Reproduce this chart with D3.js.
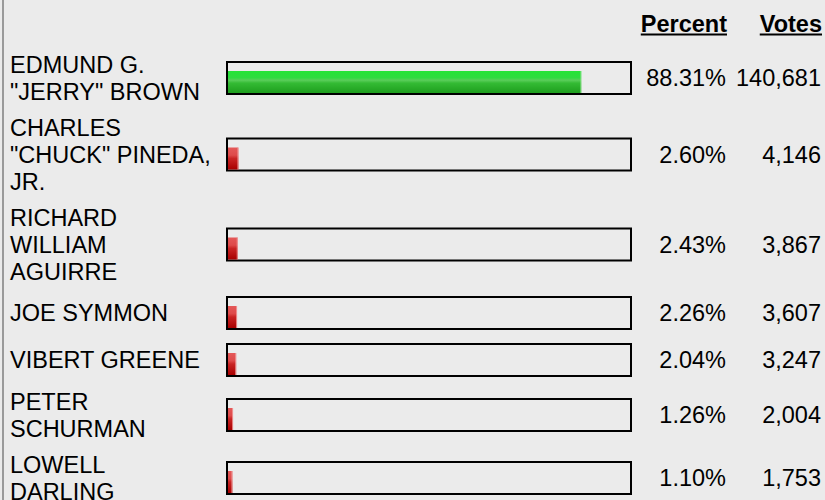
<!DOCTYPE html>
<html><head><meta charset="utf-8">
<script src="https://cdn.jsdelivr.net/npm/d3@7/dist/d3.min.js"></script>
<style>body{margin:0;background:#ebebeb;overflow:hidden}svg{display:block}</style>
</head><body><script>
// ---- data ----
const candidates = ['EDMUND G. "JERRY" BROWN', 'CHARLES "CHUCK" PINEDA, JR.', 'RICHARD WILLIAM AGUIRRE', 'JOE SYMMON', 'VIBERT GREENE', 'PETER SCHURMAN', 'LOWELL DARLING'];
const percents = [88.31, 2.60, 2.43, 2.26, 2.04, 1.26, 1.10];
const votes = [140681, 4146, 3867, 3607, 3247, 2004, 1753];
const headers = ["Percent", "Votes"];

// ---- layout ----
const W = 825, H = 500;
const FONT = '"Liberation Sans", Arial, Helvetica, sans-serif';
const FS = 23.5, LH = 27, PAD = 9, MINROW = 47;
const nameX = 10, nameMax = 204;
const pctRight = 726, voteRight = 821;

const svg = d3.select("body").append("svg").attr("width", W).attr("height", H)
  .style("font-family", FONT).style("font-size", FS + "px");

svg.append("rect").attr("width", W).attr("height", H).attr("fill", "#ebebeb");
svg.append("line").attr("x1", 3).attr("x2", 3).attr("y1", 0).attr("y2", H)
  .attr("stroke", "#9a9a9a").attr("stroke-width", 2);

// measure for wrapping
const meas = svg.append("text").attr("visibility", "hidden");
function wrap(str) {
  const words = str.split(" ");
  const lines = [];
  let cur = "";
  words.forEach(w => {
    const test = cur ? cur + " " + w : w;
    meas.text(test);
    if (cur && meas.node().getComputedTextLength() > nameMax) { lines.push(cur); cur = w; }
    else cur = test;
  });
  if (cur) lines.push(cur);
  return lines;
}
const rows = candidates.map((c, i) => ({ name: c, lines: wrap(c), pct: percents[i], votes: votes[i], i }));
meas.remove();

let rowTop = 46.5;
rows.forEach(r => {
  r.h = Math.max(r.lines.length * LH + PAD, MINROW);
  r.cy = rowTop + r.h / 2;
  rowTop += r.h;
});
const yScale = d3.scaleOrdinal().domain(candidates).range(rows.map(r => r.cy));
const x = d3.scaleLinear().domain([0, 100]).range([228, 628]);

// gradients
const defs = svg.append("defs");
const gG = defs.append("linearGradient").attr("id", "gGreen").attr("x1", 0).attr("y1", 0).attr("x2", 0).attr("y2", 1);
[[0, "#24e437"], [0.3, "#2edc40"], [0.42, "#5acd5a"], [0.55, "#34bb34"], [1, "#1e9e1e"]]
  .forEach(s => gG.append("stop").attr("offset", s[0]).attr("stop-color", s[1]));
const gR = defs.append("linearGradient").attr("id", "gRed").attr("x1", 0).attr("y1", 0).attr("x2", 0).attr("y2", 1);
[[0, "#e45858"], [0.35, "#de4a4a"], [0.5, "#c92424"], [1, "#a80000"]]
  .forEach(s => gR.append("stop").attr("offset", s[0]).attr("stop-color", s[1]));

// headers
const hdr = svg.append("g").attr("font-weight", "bold").attr("text-anchor", "end");
[[headers[0], pctRight + 1], [headers[1], voteRight + 1]].forEach(([t, xr]) => {
  const te = hdr.append("text").attr("x", xr).attr("y", 32).text(t);
  const w = te.node().getComputedTextLength();
  hdr.append("rect").attr("x", xr - w).attr("y", 33.5).attr("width", w).attr("height", 2).attr("fill", "#000");
});

const g = svg.selectAll("g.row").data(rows).join("g").attr("class", "row");

// names
g.each(function(r) {
  const n = r.lines.length;
  const t = d3.select(this).append("text").attr("fill", "#000");
  r.lines.forEach((ln, k) => {
    t.append("tspan").attr("x", nameX)
      .attr("y", yScale(r.name) + (k - (n - 1) / 2) * LH + 0.36 * FS).text(ln);
  });
});

// box
g.append("rect").attr("x", 227).attr("y", r => yScale(r.name) - 16)
  .attr("width", 404).attr("height", 32).attr("fill", "none")
  .attr("stroke", "#000").attr("stroke-width", 2);
// bars
g.append("rect").attr("x", x(0)).attr("y", r => yScale(r.name) - 7)
  .attr("width", r => x(r.pct) - x(0)).attr("height", 22)
  .attr("fill", r => r.i === 0 ? "url(#gGreen)" : "url(#gRed)");
g.append("rect").attr("x", r => x(r.pct) - 1).attr("y", r => yScale(r.name) - 7)
  .attr("width", 1).attr("height", 22)
  .attr("fill", r => r.i === 0 ? "#7fe07f" : "#f0a0a0").attr("opacity", 0.8);

// values
const fmtP = d => d3.format(".2f")(d) + "%";
const fmtV = d3.format(",");
g.append("text").attr("text-anchor", "end").attr("x", pctRight)
  .attr("y", r => yScale(r.name) + 0.36 * FS).text(r => fmtP(r.pct));
g.append("text").attr("text-anchor", "end").attr("x", voteRight)
  .attr("y", r => yScale(r.name) + 0.36 * FS).text(r => fmtV(r.votes));
</script></body></html>
